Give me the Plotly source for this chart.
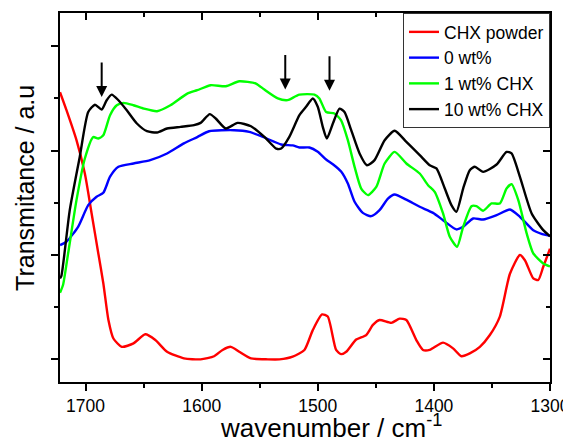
import plotly.graph_objects as go

# ---- data ----
red_x = [1722, 1716.5, 1707.8, 1700.6, 1694.8, 1689, 1684.7, 1680.3, 1676, 1668.8, 1658.7, 1648.6, 1639.9,
         1629.8, 1615.3, 1600.9, 1589.3, 1582, 1574.9, 1567.6, 1557.5, 1543, 1533, 1521.6, 1511.5, 1504.3,
         1496.3, 1491.4, 1484.2, 1479.9, 1475.5, 1466.9, 1458.3, 1452.5, 1446.8, 1436.7, 1429.5, 1423.7,
         1415.1, 1409.4, 1403.6, 1392.1, 1383.5, 1376.3, 1369.1, 1360.4, 1351.8, 1343.2, 1334.5, 1325.9,
         1321.6, 1314.4, 1310.1, 1305.8, 1300]
red_y = [2.56, 2.39, 2.10, 1.78, 1.40, 1.015, 0.73, 0.377, 0.20, 0.12, 0.153, 0.24, 0.185,
         0.073, 0.01, 0.0, 0.03, 0.09, 0.12, 0.073, 0.01, 0.0, 0.0, 0.026, 0.09, 0.28,
         0.43, 0.41, 0.09, 0.05, 0.073, 0.19, 0.233, 0.33, 0.377, 0.35, 0.39, 0.377,
         0.185, 0.09, 0.09, 0.16, 0.105, 0.03, 0.057, 0.12, 0.233, 0.41, 0.82, 1.0,
         0.95, 0.776, 0.76, 0.887, 1.06]

blue_x = [1722, 1716.5, 1706.4, 1697.7, 1690.5, 1684.7, 1678.9, 1671.7, 1658.7, 1644.3, 1629.8, 1615.3,
          1603.8, 1593.6, 1572, 1559, 1546, 1531.5, 1521.6, 1515.8, 1507.2, 1500, 1492.8, 1487, 1479.9,
          1474.1, 1468.3, 1461.2, 1454, 1446.8, 1439.6, 1433.8, 1423.7, 1412.2, 1400.7, 1392.1, 1380.6,
          1374.8, 1366.2, 1357.6, 1346, 1334.5, 1325.9, 1314.4, 1302.9, 1300]
blue_y = [1.095, 1.127, 1.27, 1.478, 1.558, 1.596, 1.75, 1.845, 1.877, 1.909, 1.973, 2.07,
          2.13, 2.186, 2.196, 2.18, 2.126, 2.059, 2.05, 2.03, 2.03, 1.99, 1.915, 1.87, 1.80,
          1.685, 1.51, 1.404, 1.372, 1.43, 1.54, 1.58, 1.53, 1.462, 1.404, 1.334, 1.245,
          1.27, 1.35, 1.34, 1.382, 1.436, 1.366, 1.238, 1.19, 1.185]

green_x = [1722, 1719.4, 1715, 1707.8, 1700.6, 1693.4, 1689, 1684.7, 1678.9, 1673.1, 1667.3, 1658.7,
           1650, 1638.4, 1626.9, 1612.4, 1603.8, 1592.2, 1579.2, 1567.6, 1553.2, 1546, 1534.4, 1527.2,
           1524.5, 1515.8, 1502.9, 1498.6, 1492.8, 1485.6, 1479.9, 1474.1, 1468.3, 1462.6, 1456.8,
           1449.6, 1442.4, 1433.8, 1423.7, 1412.2, 1405, 1399.3, 1392.1, 1386.3, 1380, 1374.8, 1367.6,
           1363.3, 1357.6, 1350.4, 1343.2, 1337.4, 1333.1, 1327.3, 1320.1, 1314.4, 1305.8, 1300]
green_y = [0.638, 0.712, 1.015, 1.526, 1.925, 2.13, 2.116, 2.148, 2.34, 2.435, 2.458, 2.435,
           2.403, 2.378, 2.435, 2.547, 2.579, 2.627, 2.617, 2.665, 2.643, 2.585, 2.5, 2.483,
           2.49, 2.537, 2.537, 2.5, 2.37, 2.356, 2.29, 2.1, 1.845, 1.637, 1.574,
           1.653, 1.877, 1.988, 1.877, 1.781, 1.669, 1.605, 1.398, 1.175, 1.079, 1.27, 1.468,
           1.468, 1.424, 1.494, 1.494, 1.637, 1.679, 1.526, 1.207, 1.015, 0.919, 0.89]

black_x = [1722, 1720.8, 1713.6, 1705, 1697.7, 1691.9, 1686.1, 1681.8, 1677.5, 1671.7, 1664.5, 1655.8,
           1647.1, 1638.4, 1629.8, 1618.2, 1606.6, 1600.9, 1593, 1587.9, 1579.2, 1569.1, 1557.5, 1546,
           1535.8, 1531.5, 1524.5, 1515.8, 1510.1, 1504.3, 1500, 1495.7, 1492.2, 1487, 1481.3, 1477,
           1471.2, 1464, 1457.7, 1451.1, 1442.4, 1433.8, 1423.7, 1412.2, 1403.6, 1397.8, 1390.6, 1384.9,
           1380.6, 1374.8, 1369.1, 1364.7, 1357.6, 1346, 1337.4, 1333.1, 1325.9, 1315.8, 1305.8, 1300]
black_y = [0.776, 0.8, 1.43, 1.94, 2.37, 2.44, 2.394, 2.483, 2.537, 2.483, 2.387, 2.26,
           2.186, 2.174, 2.212, 2.228, 2.244, 2.266, 2.35, 2.308, 2.212, 2.266, 2.234, 2.132,
           2.02, 2.02, 2.132, 2.34, 2.42, 2.5, 2.42, 2.228, 2.116, 2.26, 2.403, 2.37,
           2.196, 1.973, 1.86, 1.909, 2.1, 2.19, 2.084, 1.957, 1.86, 1.83, 1.637, 1.478,
           1.414, 1.637, 1.813, 1.845, 1.797, 1.867, 1.988, 1.973, 1.749, 1.398, 1.238, 1.18]

series_names = ["CHX powder", "0 wt%", "1 wt% CHX", "10 wt% CHX"]
series_colors = ["#ff0000", "#0000ff", "#00ff00", "#000000"]

arrow_x = [1686.1, 1528, 1489.9]
arrow_y = [2.515, 2.585, 2.573]

x_ticks = [1700, 1600, 1500, 1400, 1300]
x_minor = [1650, 1550, 1450, 1350]
y_ticks = [0, 1, 2, 3]
y_minor = [0.5, 1.5, 2.5]
x_range = [1722, 1300]
y_range = [-0.217, 3.319]

x_title = "wavenumber / cm<sup>-1</sup>"
y_title = "Transmitance / a.u"

FONT = "Liberation Sans, Arial, sans-serif"

fig = go.Figure()
all_x = [red_x, blue_x, green_x, black_x]
all_y = [red_y, blue_y, green_y, black_y]
for i, (xs, ys, name, col) in enumerate(zip(all_x, all_y, series_names, series_colors)):
    # the last series is drawn on the (identical) top/right axes so those get their inside ticks
    last = i == len(all_x) - 1
    fig.add_trace(go.Scatter(x=xs, y=ys, mode="lines", name=name,
                             xaxis="x2" if last else "x", yaxis="y2" if last else "y",
                             line=dict(color=col, width=2.4, shape="spline", smoothing=0.6)))

for ax_, ay_ in zip(arrow_x, arrow_y):
    fig.add_annotation(x=ax_, y=ay_, ax=0, ay=-36, text="", showarrow=True,
                       arrowhead=2, arrowsize=1.1, arrowwidth=2, arrowcolor="black")

# axis titles as annotations (positioned like the reference)
fig.add_annotation(text=x_title, xref="paper", yref="paper", x=0.553, y=-0.172,
                   xanchor="center", yanchor="bottom", showarrow=False,
                   font=dict(size=26, family=FONT, color="black"))
fig.add_annotation(text=y_title, xref="paper", yref="paper", x=-0.0714, y=0.526,
                   xanchor="center", yanchor="middle", textangle=-90, showarrow=False,
                   font=dict(size=25, family=FONT, color="black"))

axis_common = dict(showgrid=False, zeroline=False, showline=True, linecolor="black",
                   linewidth=1.5, automargin=False)

# the page adds an 8px body margin, so the figure is made 8px smaller and shifted accordingly
fig.update_layout(
    width=563, height=438,
    margin=dict(l=52, r=21, t=5, b=64),
    paper_bgcolor="white", plot_bgcolor="white",
    font=dict(family=FONT, color="black", size=18),
    xaxis=dict(range=x_range, tickvals=x_ticks,
               ticks="outside", ticklen=7, tickwidth=1.5, tickcolor="black",
               minor=dict(tickvals=x_minor, ticks="outside", ticklen=4,
                          tickwidth=1.5, tickcolor="black"),
               tickfont=dict(size=17.5, family=FONT),
               mirror=True, **axis_common),
    yaxis=dict(range=y_range, tickvals=y_ticks, showticklabels=False,
               ticks="outside", ticklen=7, tickwidth=1.5, tickcolor="black",
               minor=dict(tickvals=y_minor, ticks="outside", ticklen=4,
                          tickwidth=1.5, tickcolor="black"),
               mirror=True, **axis_common),
    xaxis2=dict(range=x_range, overlaying="x", side="top", anchor="y", showticklabels=False,
                tickvals=x_ticks, ticks="inside", ticklen=7, tickwidth=1.5, tickcolor="black",
                minor=dict(tickvals=x_minor, ticks="inside", ticklen=4,
                           tickwidth=1.5, tickcolor="black"),
                **axis_common),
    yaxis2=dict(range=y_range, overlaying="y", side="right", anchor="x", showticklabels=False,
                tickvals=y_ticks, ticks="inside", ticklen=7, tickwidth=1.5, tickcolor="black",
                minor=dict(tickvals=y_minor, ticks="inside", ticklen=4,
                           tickwidth=1.5, tickcolor="black"),
                **axis_common),
    legend=dict(x=1, y=1, xanchor="right", yanchor="top",
                bgcolor="white", bordercolor="#333333", borderwidth=1,
                font=dict(size=17.5, family=FONT), tracegroupgap=0),
    showlegend=True,
)

fig.write_html("out.html")
